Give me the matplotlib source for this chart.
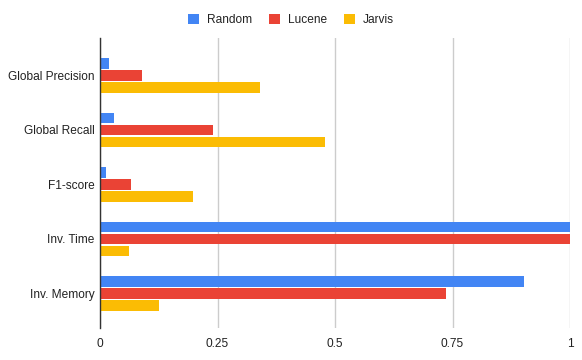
import matplotlib
matplotlib.use("Agg")
import matplotlib.pyplot as plt
import numpy as np
from matplotlib.patches import Patch

categories = ["Global Precision", "Global Recall", "F1-score", "Inv. Time", "Inv. Memory"]
series_names = ["Random", "Lucene", "Jarvis"]
random_vals = [0.020, 0.030, 0.013, 1.0, 0.902]
lucene_vals = [0.089, 0.240, 0.066, 1.0, 0.736]
jarvis_vals = [0.340, 0.478, 0.198, 0.062, 0.125]
colors = ["#4285F4", "#EA4335", "#FBBC04"]
xticks = [0, 0.25, 0.5, 0.75, 1]
xtick_labels = ["0", "0.25", "0.5", "0.75", "1"]

plt.rcParams['font.family'] = ['Liberation Sans', 'DejaVu Sans']

W, H = 582, 360
fig = plt.figure(figsize=(W/100, H/100), dpi=100)
ax = fig.add_axes([100/W, (H-328)/H, 470/W, 290/H])

y = np.arange(len(categories))
offsets = [-0.22, 0.0, 0.22]
for vals, off, c, name in zip([random_vals, lucene_vals, jarvis_vals], offsets, colors, series_names):
    ax.barh(y + off, vals, height=0.2, color=c, label=name, zorder=3)

ax.set_xlim(0, 1)
ax.set_ylim(len(categories) - 1 + 0.633, -0.688)
ax.set_yticks(y)
ax.set_yticklabels(categories, fontsize=8.6, color="#222222")
ax.set_xticks(xticks)
ax.set_xticklabels(xtick_labels, fontsize=8.6, color="#222222")
ax.tick_params(axis='both', length=0)
ax.tick_params(axis='y', pad=4)
ax.tick_params(axis='x', pad=7)
ax.grid(axis='x', color="#cccccc", linewidth=1, zorder=0)
for s in ["top", "right", "bottom"]:
    ax.spines[s].set_visible(False)
ax.spines["left"].set_color("#333333")
ax.spines["left"].set_linewidth(1)
ax.spines["left"].set_zorder(4)

handles = [Patch(facecolor=c, edgecolor='none') for c in colors]
fig.legend(handles, series_names, loc='center', bbox_to_anchor=(0.5, 1 - 20/H), ncol=3,
           frameon=False, fontsize=8.6, handlelength=0.95, handleheight=0.95,
           handletextpad=0.65, columnspacing=1.4, labelcolor="#222222")

fig.savefig("out.png", dpi=100)
